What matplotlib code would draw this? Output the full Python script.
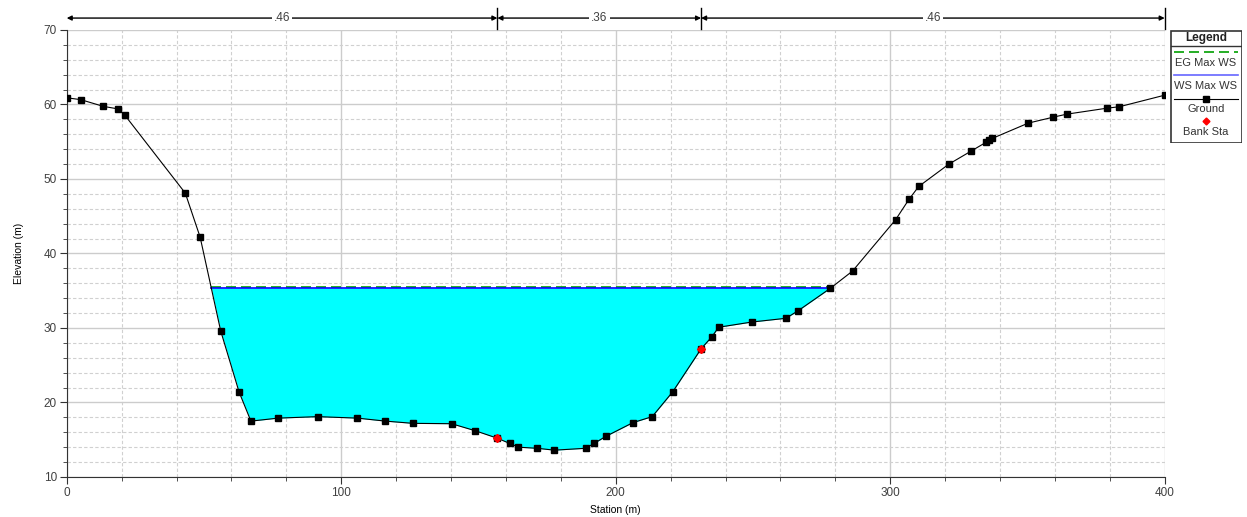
import matplotlib.pyplot as plt
from matplotlib.patches import Rectangle
import numpy as np

plt.rcParams['font.family'] = ['Liberation Sans', 'DejaVu Sans']

# ground profile
station = [0, 5.1, 13.3, 18.8, 21.1, 43.2, 48.6, 56.1, 62.8, 67.1, 77.0, 91.4,
           105.9, 116.1, 126.1, 140.2, 148.9, 156.9, 161.4, 164.5, 171.4, 177.7,
           189.0, 192.1, 196.4, 206.3, 213.3, 220.8, 231.1, 235.1, 237.5, 249.6,
           262.0, 266.4, 278.1, 286.3, 302.0, 306.9, 310.4, 321.4, 329.5, 334.8,
           336.1, 337.2, 350.3, 359.4, 364.3, 378.9, 383.5, 400.0]
elev = [60.9, 60.65, 59.75, 59.4, 58.6, 48.1, 42.2, 29.6, 21.4, 17.5, 17.9, 18.1,
        17.9, 17.5, 17.2, 17.15, 16.2, 15.2, 14.5, 14.0, 13.85, 13.6,
        13.85, 14.5, 15.45, 17.3, 18.1, 21.45, 27.2, 28.85, 30.1, 30.8,
        31.3, 32.3, 35.3, 37.65, 44.55, 47.3, 49.0, 52.0, 53.75, 54.9,
        55.2, 55.45, 57.5, 58.3, 58.7, 59.5, 59.7, 61.25]

bank_sta = [156.9, 231.1]
bank_elev = [15.2, 27.2]

ws_elev = 35.35
eg_elev = 35.45
ws_left, ws_right = 52.6, 278.1

# manning's n reaches along the top
n_edges = [0, 156.9, 231.1, 400]
n_values = ['.46', '.36', '.46']

fig = plt.figure(figsize=(12.47, 5.17), dpi=100)
ax = fig.add_axes([0.0535, 0.0774, 0.8805, 0.8646])

st = np.array(station)
el = np.array(elev)
ax.fill_between(st, el, ws_elev, where=el <= ws_elev, interpolate=True,
                color='#00ffff', lw=0, zorder=2)
ax.plot([ws_left, ws_right], [eg_elev, eg_elev], color='#00a000', lw=1.2,
        ls=(0, (6, 3)), zorder=3)
ax.plot([ws_left, ws_right], [ws_elev, ws_elev], color='#0000ff', lw=1.2, zorder=3)
ax.plot(station, elev, color='black', lw=0.8, marker='s', ms=4, zorder=4)
ax.plot(bank_sta, bank_elev, ls='none', marker='D', ms=4, color='red', zorder=5)

ax.set_xlim(0, 400)
ax.set_ylim(10, 70)
ax.set_xticks(range(0, 401, 100))
ax.set_xticks(range(0, 401, 20), minor=True)
ax.set_yticks(range(10, 71, 10))
ax.set_yticks(range(10, 71, 2), minor=True)
ax.grid(which='major', color='#cccccc', lw=1.0, zorder=0)
ax.grid(which='minor', color='#d0d0d0', lw=0.8, ls=(0, (3, 2)), zorder=0)
ax.set_axisbelow(True)
for s in ['top', 'right']:
    ax.spines[s].set_visible(False)
for s in ['left', 'bottom']:
    ax.spines[s].set_color('#333333')
ax.tick_params(which='major', length=5, pad=2, labelsize=8.5, labelcolor='#404040',
               color='#333333')
ax.tick_params(which='minor', length=3, color='#333333')
ax.set_xlabel('Station (m)', fontsize=7.5)
ax.xaxis.set_label_coords(0.5, -0.063)
ax.set_ylabel('Elevation (m)', fontsize=7.5, labelpad=14)

# n-value dimension arrows above the plot
ya = 71.6
for i in range(len(n_values)):
    a, b = n_edges[i], n_edges[i + 1]
    mid = (a + b) / 2
    ax.annotate('', xy=(a, ya), xytext=(mid, ya), annotation_clip=False,
                arrowprops=dict(arrowstyle='-|>', color='black', lw=1,
                                mutation_scale=7, shrinkA=0, shrinkB=0))
    ax.annotate('', xy=(b, ya), xytext=(mid, ya), annotation_clip=False,
                arrowprops=dict(arrowstyle='-|>', color='black', lw=1,
                                mutation_scale=7, shrinkA=0, shrinkB=0))
    ax.text(mid, ya, n_values[i], ha='center', va='center', fontsize=8.5,
            color='#404040', bbox=dict(fc='white', ec='none', pad=1.5), clip_on=False)
for e in n_edges[1:]:
    ax.plot([e, e], [70.15, 72.95], color='black', lw=1, clip_on=False)

# hand built legend box
lg = fig.add_axes([1170 / 1247, 1 - 143 / 517, 72 / 1247, 113 / 517])
lg.set_xlim(0, 72)
lg.set_ylim(113, 0)
lg.axis('off')
lg.add_patch(Rectangle((0.5, 0.5), 71, 112, fc='white', ec='#333333', lw=1.2))
lg.plot([0.5, 71.5], [16, 16], color='#333333', lw=1)
lg.text(36, 8, 'Legend', ha='center', va='center', fontsize=8.5, weight='bold',
        color='#222222')
lg.plot([4, 68], [22, 22], color='#00a000', lw=1.2, ls=(0, (6, 3)))
lg.text(36, 33, 'EG Max WS', ha='center', va='center', fontsize=8, color='#333333')
lg.plot([4, 68], [45, 45], color='#0000ff', lw=1.2, alpha=0.6)
lg.text(36, 56, 'WS Max WS', ha='center', va='center', fontsize=8, color='#333333')
lg.plot([4, 68], [69, 69], color='black', lw=0.8)
lg.plot([36], [69], marker='s', ms=4, color='black')
lg.text(36, 79, 'Ground', ha='center', va='center', fontsize=8, color='#333333')
lg.plot([36], [91], marker='D', ms=3.5, color='red')
lg.text(36, 102, 'Bank Sta', ha='center', va='center', fontsize=8, color='#333333')

fig.savefig('out.png', dpi=100)
